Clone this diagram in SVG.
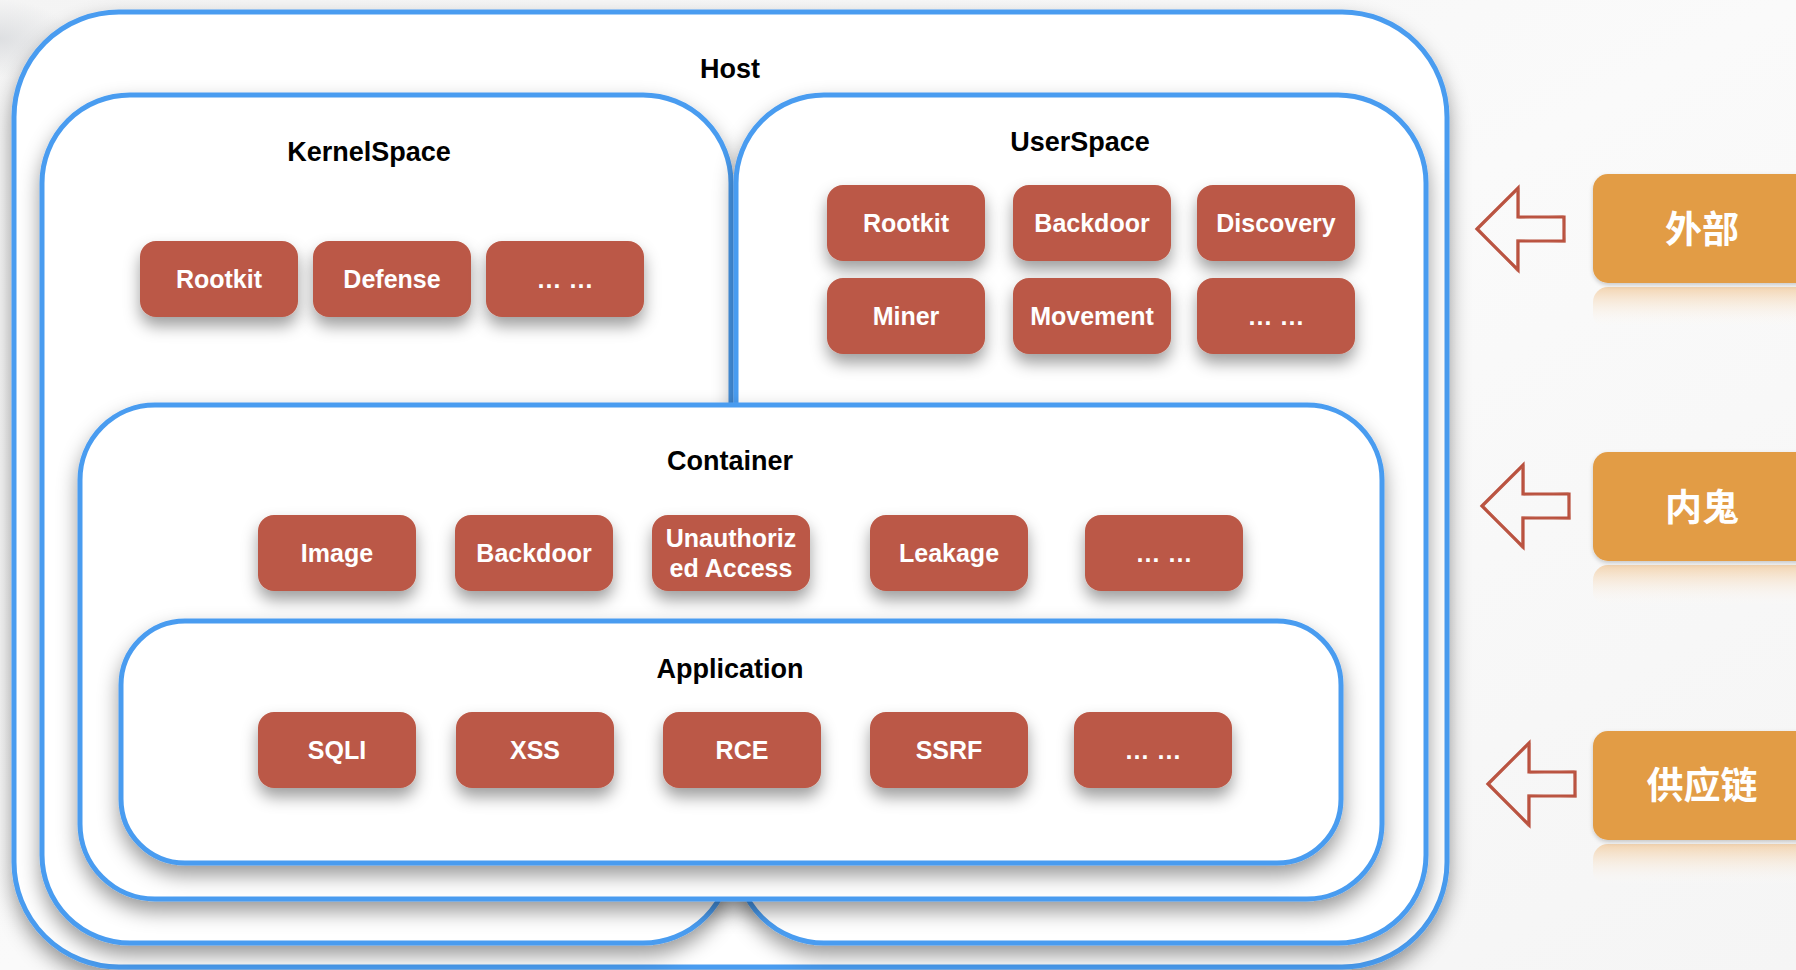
<svg xmlns="http://www.w3.org/2000/svg" width="1796" height="970" viewBox="0 0 1796 970">
  <defs>
    <linearGradient id="bg" x1="0" y1="0" x2="1" y2="1">
      <stop offset="0" stop-color="#f4f4f4"/>
      <stop offset="0.5" stop-color="#fafafa"/>
      <stop offset="1" stop-color="#f5f5f5"/>
    </linearGradient>
    <radialGradient id="corner" cx="0" cy="0.04" r="0.04">
      <stop offset="0" stop-color="#d8dadd" stop-opacity="0.8"/>
      <stop offset="1" stop-color="#d8dadd" stop-opacity="0"/>
    </radialGradient>
    <linearGradient id="reflect" x1="0" y1="0" x2="0" y2="1">
      <stop offset="0" stop-color="#f1c898" stop-opacity="0.75"/>
      <stop offset="1" stop-color="#ffffff" stop-opacity="0"/>
    </linearGradient>
    <filter id="boxShadow" x="-10%" y="-10%" width="120%" height="130%">
      <feDropShadow dx="0" dy="10" stdDeviation="10" flood-color="#000" flood-opacity="0.4"/>
    </filter>
    <filter id="nodeShadow" x="-20%" y="-20%" width="140%" height="170%">
      <feDropShadow dx="0" dy="9" stdDeviation="8" flood-color="#000" flood-opacity="0.38"/>
    </filter>
    <filter id="tagShadow" x="-10%" y="-10%" width="120%" height="130%">
      <feDropShadow dx="0" dy="2" stdDeviation="2" flood-color="#000" flood-opacity="0.2"/>
    </filter>
    <!-- hollow left-pointing arrow, tip at origin -->
    <g id="arrow">
      <polygon points="0,0 41,-41 41,-12 87,-12 87,12 41,12 41,41" fill="none" stroke="#b9503e" stroke-width="3.2" stroke-linejoin="miter"/>
      <polygon points="1,-1 42,-40 42,-11 86,-13 88,13 40,11 40,42" fill="none" stroke="#c0614d" stroke-width="1.2" stroke-opacity="0.55"/>
    </g>
  </defs>
  <style>
    .layer { fill: #ffffff; stroke: #4a9cf0; stroke-width: 5; filter: url(#boxShadow); }
    .node rect { fill: #bb5846; filter: url(#nodeShadow); }
    .node text { fill: #ffffff; font-family: "Liberation Sans", Arial, sans-serif; font-weight: bold; font-size: 25px; text-anchor: middle; }
    .title { fill: #000000; font-family: "Liberation Sans", Arial, sans-serif; font-weight: bold; font-size: 27px; text-anchor: middle; }
    .tag rect.face { fill: #e29c45; filter: url(#tagShadow); }
    .tag rect.mirror { fill: url(#reflect); }
    .tag text { fill: #ffffff; font-family: "Noto Sans CJK SC", "Noto Sans", sans-serif; font-weight: bold; font-size: 37px; text-anchor: middle; }
  </style>

  <!-- page -->
  <rect x="0" y="0" width="1796" height="970" fill="url(#bg)"/>
  <rect x="0" y="0" width="1796" height="970" fill="url(#corner)"/>

  <!-- nested layers -->
  <g id="host">
    <rect class="layer" x="14" y="12" width="1433" height="955" rx="105" ry="105"/>
    <text class="title" x="730" y="78">Host</text>
  </g>
  <g id="kernelspace">
    <rect class="layer" x="42" y="95" width="689" height="848" rx="88" ry="88"/>
    <text class="title" x="369" y="161">KernelSpace</text>
  </g>
  <g id="userspace">
    <rect class="layer" x="736" y="95" width="690" height="848" rx="88" ry="88"/>
    <text class="title" x="1080" y="151">UserSpace</text>
  </g>
  <g id="container">
    <rect class="layer" x="80" y="405" width="1302" height="494" rx="75" ry="75"/>
    <text class="title" x="730" y="470">Container</text>
  </g>
  <g id="application">
    <rect class="layer" x="121" y="621" width="1220" height="242" rx="64" ry="64"/>
    <text class="title" x="730" y="678">Application</text>
  </g>

  <!-- KernelSpace items -->
  <g id="k-rootkit" class="node"><rect x="140" y="241" width="158" height="76" rx="16"/><text x="219" y="288">Rootkit</text></g>
  <g id="k-defense" class="node"><rect x="313" y="241" width="158" height="76" rx="16"/><text x="392" y="288">Defense</text></g>
  <g id="k-more" class="node"><rect x="486" y="241" width="158" height="76" rx="16"/><text x="565" y="288">… …</text></g>

  <!-- UserSpace items -->
  <g id="u-rootkit" class="node"><rect x="827" y="185" width="158" height="76" rx="16"/><text x="906" y="232">Rootkit</text></g>
  <g id="u-backdoor" class="node"><rect x="1013" y="185" width="158" height="76" rx="16"/><text x="1092" y="232">Backdoor</text></g>
  <g id="u-discovery" class="node"><rect x="1197" y="185" width="158" height="76" rx="16"/><text x="1276" y="232">Discovery</text></g>
  <g id="u-miner" class="node"><rect x="827" y="278" width="158" height="76" rx="16"/><text x="906" y="325">Miner</text></g>
  <g id="u-movement" class="node"><rect x="1013" y="278" width="158" height="76" rx="16"/><text x="1092" y="325">Movement</text></g>
  <g id="u-more" class="node"><rect x="1197" y="278" width="158" height="76" rx="16"/><text x="1276" y="325">… …</text></g>

  <!-- Container items -->
  <g id="c-image" class="node"><rect x="258" y="515" width="158" height="76" rx="16"/><text x="337" y="562">Image</text></g>
  <g id="c-backdoor" class="node"><rect x="455" y="515" width="158" height="76" rx="16"/><text x="534" y="562">Backdoor</text></g>
  <g id="c-unauth" class="node"><rect x="652" y="515" width="158" height="76" rx="16"/><text x="731" y="547">Unauthoriz</text><text x="731" y="577">ed Access</text></g>
  <g id="c-leakage" class="node"><rect x="870" y="515" width="158" height="76" rx="16"/><text x="949" y="562">Leakage</text></g>
  <g id="c-more" class="node"><rect x="1085" y="515" width="158" height="76" rx="16"/><text x="1164" y="562">… …</text></g>

  <!-- Application items -->
  <g id="a-sqli" class="node"><rect x="258" y="712" width="158" height="76" rx="16"/><text x="337" y="759">SQLI</text></g>
  <g id="a-xss" class="node"><rect x="456" y="712" width="158" height="76" rx="16"/><text x="535" y="759">XSS</text></g>
  <g id="a-rce" class="node"><rect x="663" y="712" width="158" height="76" rx="16"/><text x="742" y="759">RCE</text></g>
  <g id="a-ssrf" class="node"><rect x="870" y="712" width="158" height="76" rx="16"/><text x="949" y="759">SSRF</text></g>
  <g id="a-more" class="node"><rect x="1074" y="712" width="158" height="76" rx="16"/><text x="1153" y="759">… …</text></g>

  <!-- threat sources -->
  <g id="src-external" class="tag">
    <rect class="mirror" x="1593" y="287" width="240" height="42" rx="15"/>
    <rect class="face" x="1593" y="174" width="240" height="109" rx="15"/>
    <text x="1702" y="243">外部</text>
  </g>
  <g id="src-insider" class="tag">
    <rect class="mirror" x="1593" y="565" width="240" height="42" rx="15"/>
    <rect class="face" x="1593" y="452" width="240" height="109" rx="15"/>
    <text x="1702" y="521">内鬼</text>
  </g>
  <g id="src-supply" class="tag">
    <rect class="mirror" x="1593" y="844" width="240" height="42" rx="15"/>
    <rect class="face" x="1593" y="731" width="240" height="109" rx="15"/>
    <text x="1702" y="799">供应链</text>
  </g>

  <!-- connectors -->
  <g id="connectors">
    <use href="#arrow" x="1477" y="229"/>
    <use href="#arrow" x="1482" y="506"/>
    <use href="#arrow" x="1488" y="784"/>
  </g>
</svg>
